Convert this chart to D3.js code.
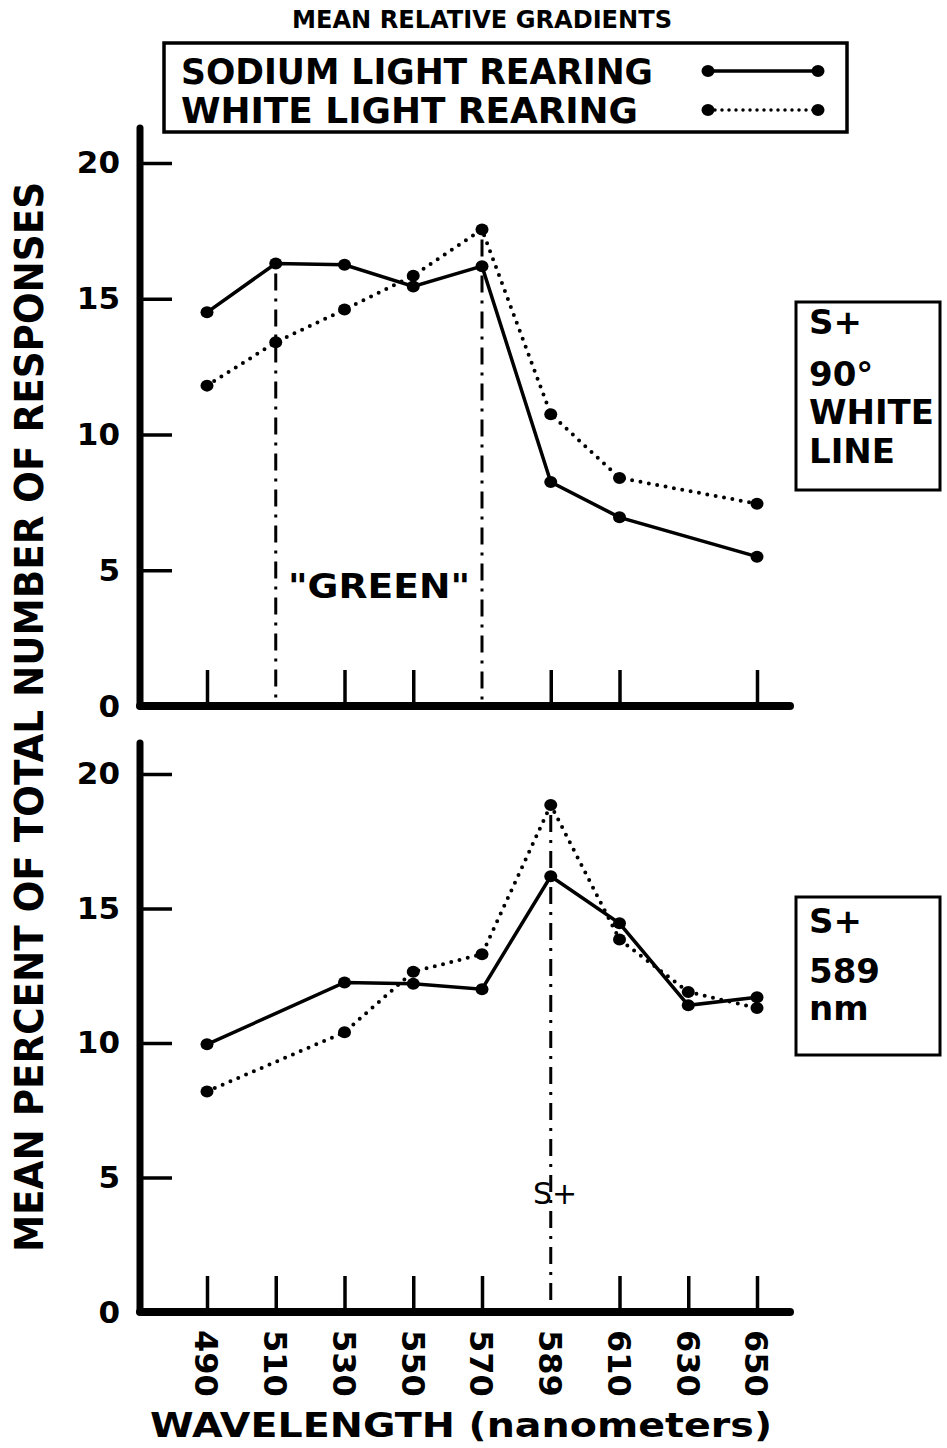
<!DOCTYPE html>
<html>
<head>
<meta charset="utf-8">
<script src="https://cdn.jsdelivr.net/npm/d3@7"></script>
<style>
  body { margin: 0; background: #fff; }
  svg { display: block; font-family: "DejaVu Sans", sans-serif; font-weight: bold; }
</style>
</head>
<body>
<div id="chart"></div>
<script>
// Wavelength categories (nm), shared by both panels
const wavelengths = ["490", "510", "530", "550", "570", "589", "610", "630", "650"];
const yTicks = [0, 5, 10, 15, 20];

// Top panel: S+ = 90 deg white line (null = no point drawn)
const sodiumTop = [14.5, 16.3, 16.25, 15.45, 16.2, 8.25, 6.95, null, 5.5];
const whiteTop  = [11.8, 13.4, 14.6, 15.85, 17.55, 10.75, 8.4, null, 7.45];
const topTickCats = ["490", "530", "550", "589", "610", "650"];
const topMarkers = ["510", "570"];

// Bottom panel: S+ = 589 nm
const sodiumBottom = [9.95, null, 12.25, 12.2, 12.0, 16.2, 14.45, 11.4, 11.7];
const whiteBottom  = [8.2, null, 10.4, 12.65, 13.3, 18.85, 13.85, 11.9, 11.3];
const bottomTickCats = ["490", "510", "530", "550", "570", "610", "630", "650"];
const bottomMarkers = ["589"];

const W = 947, H = 1448;
const svg = d3.select("#chart").append("svg")
    .attr("width", W)
    .attr("height", H);

const x = d3.scalePoint()
    .domain(wavelengths)
    .range([207, 757]);

const axisX = 140;
const axisRight = 790;

const panels = [
    {yRange: [706, 163], axisTop: 128, sodium: sodiumTop, white: whiteTop,
     ticks: topTickCats, markers: topMarkers, labels: false},
    {yRange: [1312, 774], axisTop: 743, sodium: sodiumBottom, white: whiteBottom,
     ticks: bottomTickCats, markers: bottomMarkers, labels: true}
];

panels.forEach(p => {
    const y = d3.scaleLinear().domain([0, 20]).range(p.yRange);
    const base = y(0);
    const g = svg.append("g");

    // y ticks + labels
    const yAxis = d3.axisLeft(y)
        .tickValues(yTicks.slice(1))
        .tickSizeInner(-32)
        .tickSizeOuter(0)
        .tickPadding(20);
    const ya = g.append("g")
        .attr("transform", `translate(${axisX},0)`)
        .call(yAxis);
    ya.select(".domain").remove();
    ya.selectAll("line").attr("stroke", "#000").attr("stroke-width", 3.5);
    ya.selectAll("text")
        .style("font-size", "31px")
        .style("font-family", "DejaVu Sans")
        .style("font-weight", "bold")
        .attr("fill", "#000");
    // zero label
    g.append("text")
        .attr("x", axisX - 20)
        .attr("y", base)
        .attr("dy", "0.36em")
        .attr("text-anchor", "end")
        .style("font-size", "31px")
        .text("0");

    // x ticks (short upward marks)
    const xAxis = d3.axisBottom(x)
        .tickValues(p.ticks)
        .tickSizeInner(-36)
        .tickSizeOuter(0)
        .tickFormat("");
    const xa = g.append("g")
        .attr("transform", `translate(0,${base})`)
        .call(xAxis);
    xa.select(".domain").remove();
    xa.selectAll("line").attr("stroke", "#000").attr("stroke-width", 3.5);

    // axis frame
    g.append("line")
        .attr("x1", axisX).attr("x2", axisX)
        .attr("y1", p.axisTop).attr("y2", base)
        .attr("stroke", "#000").attr("stroke-width", 7)
        .attr("stroke-linecap", "round");
    g.append("line")
        .attr("x1", axisX).attr("x2", axisRight)
        .attr("y1", base).attr("y2", base)
        .attr("stroke", "#000").attr("stroke-width", 8)
        .attr("stroke-linecap", "round");

    // dash-dot marker lines
    p.markers.forEach(c => {
        const i = wavelengths.indexOf(c);
        const top = Math.min(y(p.sodium[i]), y(p.white[i]));
        g.append("line")
            .attr("x1", x(c)).attr("x2", x(c))
            .attr("y1", top + 10).attr("y2", base - 6)
            .attr("stroke", "#000").attr("stroke-width", 3)
            .attr("stroke-dasharray", "17 8 3 8");
    });

    const line = d3.line()
        .x(d => x(d.c))
        .y(d => y(d.v));

    const series = [
        {vals: p.white, dash: "0 8.5", width: 4, cap: "round"},
        {vals: p.sodium, dash: null, width: 3.5, cap: "butt"}
    ];
    series.forEach(s => {
        const pts = wavelengths.map((c, i) => ({c, v: s.vals[i]})).filter(d => d.v != null);
        g.append("path")
            .datum(pts)
            .attr("d", line)
            .attr("fill", "none")
            .attr("stroke", "#000")
            .attr("stroke-width", s.width)
            .attr("stroke-linecap", s.cap)
            .attr("stroke-dasharray", s.dash);
        g.selectAll(null)
            .data(pts)
            .enter()
            .append("ellipse")
            .attr("cx", d => x(d.c))
            .attr("cy", d => y(d.v))
            .attr("rx", 6.5)
            .attr("ry", 6)
            .attr("fill", "#000");
    });

    // rotated wavelength labels
    if (p.labels) {
        g.selectAll(".xlab")
            .data(wavelengths)
            .enter()
            .append("text")
            .attr("class", "xlab")
            .attr("transform", d => `translate(${x(d)},${base + 18}) rotate(90)`)
            .attr("dy", "0.36em")
            .attr("text-anchor", "start")
            .style("font-size", "32px")
            .text(d => d);
    }
});

// title + legend
svg.append("text")
    .attr("x", 482).attr("y", 28)
    .attr("text-anchor", "middle")
    .attr("textLength", 380)
    .attr("lengthAdjust", "spacingAndGlyphs")
    .style("font-size", "25px")
    .text("MEAN RELATIVE GRADIENTS");

svg.append("rect")
    .attr("x", 164).attr("y", 43)
    .attr("width", 683).attr("height", 89)
    .attr("fill", "none")
    .attr("stroke", "#000").attr("stroke-width", 3.5);

const legendRows = [
    {label: "SODIUM LIGHT REARING", y: 71, len: 472, dash: null, width: 3.5},
    {label: "WHITE LIGHT REARING", y: 110, len: 457, dash: "0 7", width: 3.5}
];
legendRows.forEach(r => {
    svg.append("text")
        .attr("x", 181).attr("y", r.y + 13)
        .attr("textLength", r.len)
        .attr("lengthAdjust", "spacingAndGlyphs")
        .style("font-size", "35px")
        .text(r.label);
    svg.append("line")
        .attr("x1", 708).attr("x2", 818)
        .attr("y1", r.y).attr("y2", r.y)
        .attr("stroke", "#000").attr("stroke-width", r.width)
        .attr("stroke-linecap", "round")
        .attr("stroke-dasharray", r.dash);
    [708, 818].forEach(cx => {
        svg.append("ellipse")
            .attr("cx", cx).attr("cy", r.y)
            .attr("rx", 6.5).attr("ry", 6)
            .attr("fill", "#000");
    });
});

// condition boxes on the right
const boxes = [
    {x: 796, y: 302, w: 144, h: 188, lines: [["S+", 334], ["90°", 386], ["WHITE", 424], ["LINE", 463]]},
    {x: 796, y: 897, w: 144, h: 158, lines: [["S+", 933], ["589", 983], ["nm", 1020]]}
];
boxes.forEach(b => {
    svg.append("rect")
        .attr("x", b.x).attr("y", b.y)
        .attr("width", b.w).attr("height", b.h)
        .attr("fill", "none")
        .attr("stroke", "#000").attr("stroke-width", 3);
    b.lines.forEach(([t, ty]) => {
        svg.append("text")
            .attr("x", b.x + 13).attr("y", ty)
            .style("font-size", "34px")
            .text(t);
    });
});

// annotations
svg.append("text")
    .attr("x", 288).attr("y", 598)
    .attr("textLength", 182)
    .attr("lengthAdjust", "spacingAndGlyphs")
    .style("font-size", "33px")
    .text("\"GREEN\"");

svg.append("text")
    .attr("x", 533).attr("y", 1204)
    .style("font-size", "30px")
    .style("font-weight", "normal")
    .text("S+");

// axis titles
svg.append("text")
    .attr("transform", "translate(43,717) rotate(-90)")
    .attr("text-anchor", "middle")
    .attr("textLength", 1070)
    .attr("lengthAdjust", "spacingAndGlyphs")
    .style("font-size", "39px")
    .text("MEAN PERCENT OF TOTAL NUMBER OF RESPONSES");

svg.append("text")
    .attr("x", 150).attr("y", 1437)
    .attr("textLength", 622)
    .attr("lengthAdjust", "spacingAndGlyphs")
    .style("font-size", "33px")
    .text("WAVELENGTH (nanometers)");
</script>
</body>
</html>
